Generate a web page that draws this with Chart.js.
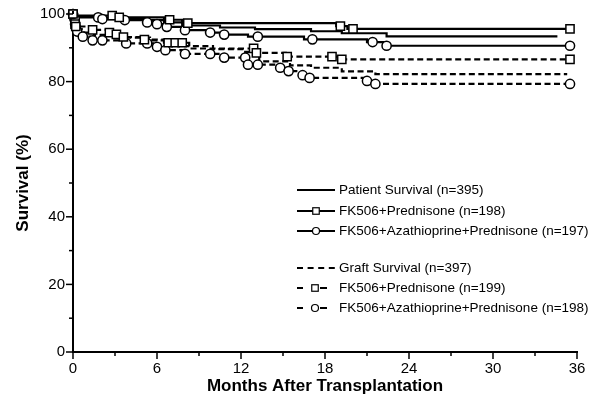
<!DOCTYPE html>
<html><head><meta charset="utf-8">
<script src="https://cdn.jsdelivr.net/npm/chart.js@4.4.1/dist/chart.umd.min.js"></script>
<style>html,body{margin:0;padding:0;background:#fff;}#wrap{width:600px;height:412px;}</style>
</head><body><div id="wrap"><canvas id="c" width="600" height="412"></canvas></div>
<script>
// Tick labels
const xTickLabels = [0, 6, 12, 18, 24, 30, 36];
const yTickLabels = [0, 20, 40, 60, 80, 100];

// Patient survival, all (solid, no markers)
const patientMonths = [0, 0.2, 2.0, 5.0, 6.5, 7.8, 10.5, 13.0, 17.0, 19.2, 22.4, 34.6];
const patientSurv   = [100, 99.2, 98.8, 98.2, 97.5, 96.6, 96.0, 95.5, 94.9, 94.3, 93.4, 93.4];

// Patient survival, FK506+Prednisone (solid, squares)
const ptPredMonths = [0, 0.2, 3.1, 6.5, 7.8, 18.8, 19.6, 35.5];
const ptPredSurv   = [100, 99.5, 99.0, 98.3, 97.3, 96.4, 95.6, 95.6];
const ptPredMarkMonths = [0, 2.8, 3.3, 6.9, 8.2, 19.1, 20.0, 35.5];
const ptPredMarkSurv   = [100, 99.5, 99.0, 98.3, 97.3, 96.4, 95.6, 95.6];

// Patient survival, FK506+Azathioprine+Prednisone (solid, circles)
const ptAzaMonths = [0, 0.2, 2.0, 3.5, 5.0, 5.8, 6.5, 7.8, 9.5, 10.5, 12.5, 16.5, 21.0, 22.2, 35.5];
const ptAzaSurv   = [100, 99.0, 98.5, 98.2, 97.5, 97.0, 96.2, 95.2, 94.5, 93.9, 93.3, 92.5, 91.7, 90.6, 90.6];
const ptAzaMarkMonths = [0, 1.8, 2.1, 3.7, 5.3, 6.0, 6.7, 8.0, 9.8, 10.8, 13.2, 17.1, 21.4, 22.4, 35.5];
const ptAzaMarkSurv   = [100, 99.0, 98.5, 98.2, 97.5, 97.0, 96.2, 95.2, 94.5, 93.9, 93.3, 92.5, 91.7, 90.6, 90.6];

// Graft survival, all (dashed, no markers)
const graftMonths = [0, 0.1, 0.3, 0.8, 1.5, 3.5, 5.5, 6.5, 8.0, 10.0, 12.3, 13.3, 15.5, 17.0, 19.2, 21.6, 35.3];
const graftSurv   = [100, 97.0, 95.5, 94.5, 93.8, 93.0, 92.2, 91.3, 90.5, 89.6, 88.8, 86.0, 84.8, 84.1, 83.0, 82.2, 82.2];

// Graft survival, FK506+Prednisone (dashed, squares)
const grPredMonths = [0, 0.1, 0.15, 0.2, 1.3, 2.4, 3.0, 3.5, 5.0, 6.5, 8.3, 13.05, 15.2, 19.1, 35.5];
const grPredSurv   = [100, 98.0, 97.0, 96.3, 95.3, 94.5, 94.0, 93.2, 92.4, 91.5, 89.8, 88.5, 87.4, 86.6, 86.6];
const grPredMarkMonths = [0, 0.15, 0.15, 0.2, 1.4, 2.6, 3.1, 3.6, 5.1, 6.8, 7.3, 7.8, 12.9, 13.1, 15.3, 18.5, 19.2, 35.5];
const grPredMarkSurv   = [100, 98.0, 97.0, 96.3, 95.3, 94.5, 94.0, 93.2, 92.4, 91.5, 91.5, 91.5, 89.8, 88.5, 87.4, 87.4, 86.6, 86.6];

// Graft survival, FK506+Azathioprine+Prednisone (dashed, circles)
const grAzaMonths = [0, 0.1, 0.15, 0.2, 0.3, 0.6, 1.2, 3.6, 5.8, 6.5, 7.8, 10.5, 12.4, 14.6, 15.3, 16.2, 16.8, 20.8, 21.5, 35.5];
const grAzaSurv   = [100, 98.5, 97.0, 96.0, 94.8, 93.3, 92.2, 91.3, 90.3, 89.3, 88.2, 87.1, 85.0, 84.1, 83.1, 81.9, 81.1, 80.2, 79.3, 79.3];
const grAzaMarkMonths = [0, 0.1, 0.15, 0.2, 0.3, 0.7, 1.4, 2.1, 3.8, 5.3, 6.0, 6.6, 8.0, 9.8, 10.8, 12.3, 12.5, 13.2, 14.8, 15.4, 16.4, 16.9, 21.0, 21.6, 35.5];
const grAzaMarkSurv   = [100, 98.5, 97.0, 96.0, 94.8, 93.3, 92.2, 92.2, 91.3, 91.3, 90.3, 89.3, 88.2, 88.2, 87.1, 87.1, 85.0, 85.0, 84.1, 83.1, 81.9, 81.1, 80.2, 79.3, 79.3];

// Legend
const legendLabels = [
  'Patient Survival (n=395)',
  'FK506+Prednisone (n=198)',
  'FK506+Azathioprine+Prednisone (n=197)',
  'Graft Survival (n=397)',
  'FK506+Prednisone (n=199)',
  'FK506+Azathioprine+Prednisone (n=198)'
];

const FONT = '"Liberation Sans", Arial, sans-serif';
const DASH = [6, 3.5];
const xy = (m, s) => m.map((v, i) => ({x: v, y: s[i]}));

function stepDs(m, s, dashed) {
  return {data: xy(m, s), stepped: 'before', borderColor: '#000', borderWidth: 2.2,
    borderDash: dashed ? DASH : [], pointRadius: 0, fill: false, clip: false, order: 2};
}
function markDs(m, s, style) {
  return {data: xy(m, s), showLine: false, pointStyle: style, pointRadius: style === 'rect' ? 5.8 : 4.6,
    pointBackgroundColor: '#fff', pointBorderColor: '#000', pointBorderWidth: 1.5, clip: false, order: 1};
}

const tickPlugin = {
  id: 'tickMarks',
  afterDraw(chart) {
    const ctx = chart.ctx, xs = chart.scales.x, ys = chart.scales.y;
    ctx.save();
    ctx.strokeStyle = '#000'; ctx.lineWidth = 1.5;
    xs.ticks.forEach(t => {
      const p = xs.getPixelForValue(t.value);
      const len = xTickLabels.includes(t.value) ? 7 : 4;
      ctx.beginPath(); ctx.moveTo(p, xs.top); ctx.lineTo(p, xs.top + len); ctx.stroke();
    });
    ys.ticks.forEach(t => {
      const p = ys.getPixelForValue(t.value);
      const len = yTickLabels.includes(t.value) ? 7 : 4;
      ctx.beginPath(); ctx.moveTo(ys.right, p); ctx.lineTo(ys.right - len, p); ctx.stroke();
    });
    // small overshoot of the vertical axis above 100
    ctx.lineWidth = 2;
    ctx.beginPath(); ctx.moveTo(ys.right, ys.top); ctx.lineTo(ys.right, ys.top - 3); ctx.stroke();
    ctx.restore();
  }
};

const legendPlugin = {
  id: 'kmLegend',
  afterDraw(chart) {
    const ctx = chart.ctx, a = chart.chartArea;
    const x0 = a.left + 224, x1 = a.left + 262, tx = a.left + 266;
    const rows = [a.top + 176, a.top + 197, a.top + 217, a.top + 254, a.top + 274, a.top + 294];
    ctx.save();
    ctx.fillStyle = '#000'; ctx.strokeStyle = '#000';
    ctx.font = '13.5px ' + FONT; ctx.textBaseline = 'middle';
    const sq = (cx, cy, s) => { ctx.save(); ctx.setLineDash([]); ctx.lineWidth = 1.2; ctx.fillStyle = '#fff';
      ctx.fillRect(cx - s/2, cy - s/2, s, s); ctx.strokeRect(cx - s/2, cy - s/2, s, s); ctx.restore(); };
    const ci = (cx, cy, r) => { ctx.save(); ctx.setLineDash([]); ctx.lineWidth = 1.2; ctx.fillStyle = '#fff';
      ctx.beginPath(); ctx.arc(cx, cy, r, 0, Math.PI * 2); ctx.fill(); ctx.stroke(); ctx.restore(); };
    const line = (xa, xb, y, dash) => { ctx.save(); ctx.lineWidth = 2; ctx.setLineDash(dash);
      ctx.beginPath(); ctx.moveTo(xa, y); ctx.lineTo(xb, y); ctx.stroke(); ctx.restore(); };
    const mid = (x0 + x1) / 2;
    line(x0, x1, rows[0], []);
    line(x0, x1, rows[1], []); sq(mid, rows[1], 6.5);
    line(x0, x1, rows[2], []); ci(mid, rows[2], 3.5);
    line(x0, x1, rows[3], [6, 4.6]);
    line(x0, x0 + 6, rows[4], []); sq(x0 + 18, rows[4], 6.5); line(x0 + 23, x0 + 30, rows[4], []);
    line(x0, x0 + 6, rows[5], []); ci(x0 + 18, rows[5], 3.5); line(x0 + 23, x0 + 30, rows[5], []);
    legendLabels.forEach((t, i) => ctx.fillText(t, tx, rows[i]));
    ctx.restore();
  }
};

new Chart(document.getElementById('c'), {
  type: 'line',
  data: {
    datasets: [
      stepDs(patientMonths, patientSurv, false),
      stepDs(ptPredMonths, ptPredSurv, false),
      markDs(ptPredMarkMonths, ptPredMarkSurv, 'rect'),
      stepDs(ptAzaMonths, ptAzaSurv, false),
      markDs(ptAzaMarkMonths, ptAzaMarkSurv, 'circle'),
      stepDs(graftMonths, graftSurv, true),
      stepDs(grPredMonths, grPredSurv, true),
      markDs(grPredMarkMonths, grPredMarkSurv, 'rect'),
      stepDs(grAzaMonths, grAzaSurv, true),
      markDs(grAzaMarkMonths, grAzaMarkSurv, 'circle')
    ]
  },
  options: {
    responsive: false, animation: false, devicePixelRatio: 1,
    layout: {padding: {left: 0, top: 14, right: 23, bottom: 0}},
    plugins: {legend: {display: false}, tooltip: {enabled: false}},
    elements: {line: {tension: 0}},
    scales: {
      x: {
        type: 'linear', min: 0, max: 36,
        grid: {display: false, drawTicks: true, tickLength: 7},
        border: {display: true, color: '#000', width: 2},
        ticks: {stepSize: 3, autoSkip: false, maxRotation: 0, padding: 1, color: '#000',
          font: {family: FONT, size: 15},
          callback: v => xTickLabels.includes(v) ? String(v) : ''},
        title: {display: true, text: 'Months After Transplantation', color: '#000',
          font: {family: FONT, size: 17, weight: 'bold'}, padding: {top: 0, bottom: 15}},
        afterFit: s => { s.height = 60; }
      },
      y: {
        type: 'linear', min: 0, max: 100,
        grid: {display: false, drawTicks: true, tickLength: 7},
        border: {display: true, color: '#000', width: 2},
        ticks: {stepSize: 10, autoSkip: false, padding: 1, color: '#000',
          font: {family: FONT, size: 15},
          callback: v => yTickLabels.includes(v) ? String(v) : ''},
        title: {display: true, text: 'Survival (%)', color: '#000',
          font: {family: FONT, size: 17, weight: 'bold'}, padding: {top: 13, bottom: 0}},
        afterFit: s => { s.width = 73; }
      }
    }
  },
  plugins: [tickPlugin, legendPlugin]
});
</script></body></html>
